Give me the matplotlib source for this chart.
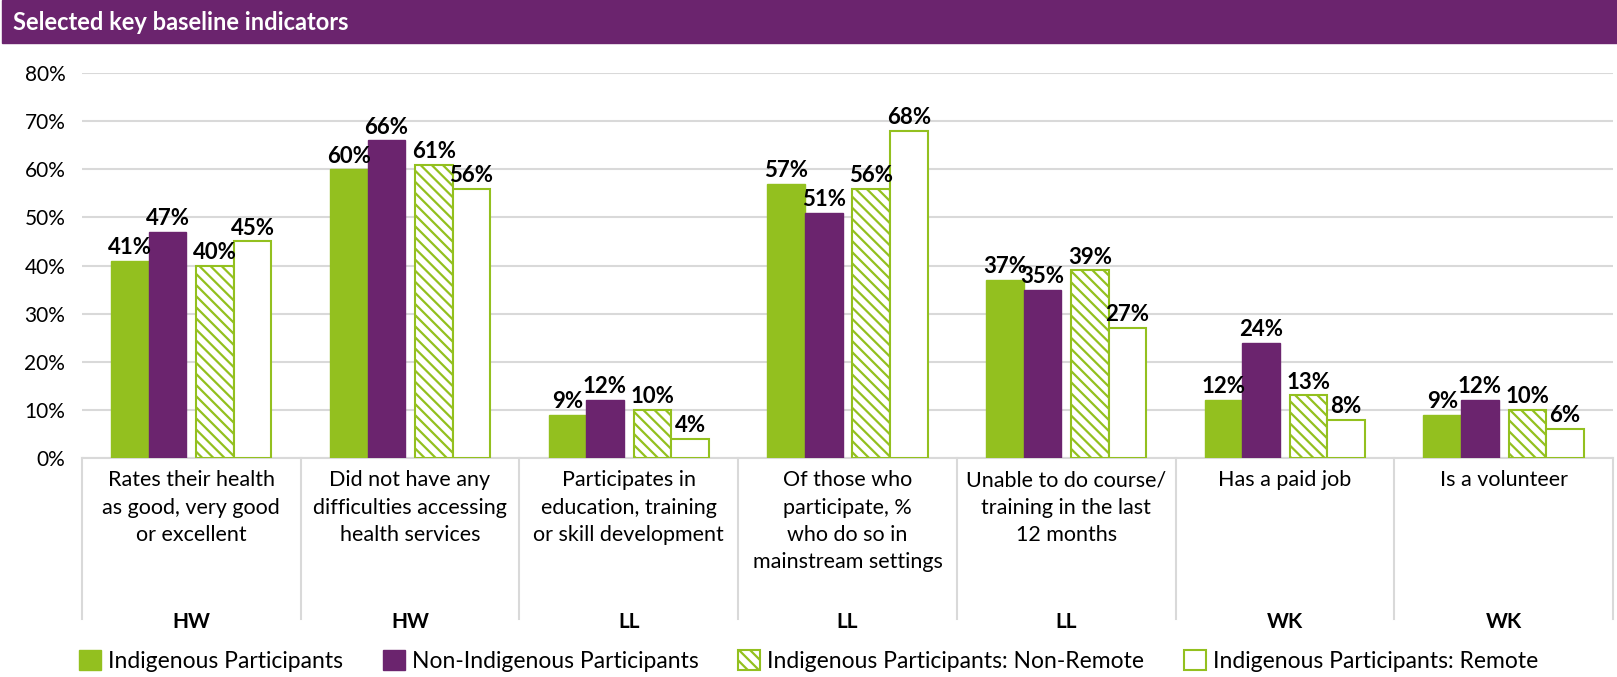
import numpy as np
import matplotlib
matplotlib.use("Agg")
import matplotlib.pyplot as plt
from matplotlib.patches import Patch, Rectangle

plt.rcParams['font.family'] = ['Lato', 'DejaVu Sans']
plt.rcParams['hatch.linewidth'] = 1.6
plt.rcParams['hatch.color'] = '#93C01F'

GREEN = '#93C01F'
PURPLE = '#6B246E'
GRID = '#d9d9d9'

categories = [
    "Rates their health\nas good, very good\nor excellent",
    "Did not have any\ndifficulties accessing\nhealth services",
    "Participates in\neducation, training\nor skill development",
    "Of those who\nparticipate, %\nwho do so in\nmainstream settings",
    "Unable to do course/\ntraining in the last\n12 months",
    "Has a paid job",
    "Is a volunteer",
]
domains = ["HW", "HW", "LL", "LL", "LL", "WK", "WK"]

indigenous = [41, 60, 9, 57, 37, 12, 9]
non_indigenous = [47, 66, 12, 51, 35, 24, 12]
non_remote = [40, 61, 10, 56, 39, 13, 10]
remote = [45, 56, 4, 68, 27, 8, 6]

series = ["Indigenous Participants", "Non-Indigenous Participants",
          "Indigenous Participants: Non-Remote", "Indigenous Participants: Remote"]

fig = plt.figure(figsize=(16.17, 6.77), dpi=100)
ax = fig.add_axes([0.0507, 0.3235, 0.9468, 0.5685])

x = np.arange(len(categories))
w = 0.172
gap = 0.045
offs = [-gap / 2 - 1.5 * w, -gap / 2 - 0.5 * w, gap / 2 + 0.5 * w, gap / 2 + 1.5 * w]

data = [np.array(v) / 100 for v in (indigenous, non_indigenous, non_remote, remote)]
styles = [
    dict(color=GREEN, edgecolor=GREEN),
    dict(color=PURPLE, edgecolor=PURPLE),
    dict(facecolor='white', edgecolor=GREEN, hatch='\\\\\\', linewidth=1.5),
    dict(facecolor='white', edgecolor=GREEN, linewidth=1.5),
]

for vals, off, st, name in zip(data, offs, styles, series):
    bars = ax.bar(x + off, vals, w, label=name, zorder=3, **st)
    ax.bar_label(bars, labels=[f"{v * 100:.0f}%" for v in vals], padding=2,
                 fontsize=16, fontweight='bold', color='black', zorder=4)

ax.set_xlim(-0.5, len(categories) - 0.5)
ax.set_ylim(0, 0.8)
ax.set_yticks(np.arange(0, 0.81, 0.1))
ax.set_yticklabels([f"{t}%" for t in range(0, 81, 10)], fontsize=15)
ax.yaxis.grid(True, color=GRID, linewidth=1.5, zorder=0)
ax.tick_params(axis='y', length=0, pad=12)
ax.tick_params(axis='x', length=0, labelbottom=False)
for s in ['top', 'right', 'left']:
    ax.spines[s].set_visible(False)
ax.spines['bottom'].set_color(GRID)
ax.spines['bottom'].set_linewidth(1.5)

# category text and domain tags below the axis, split by thin dividers
for i, (cat, dom) in enumerate(zip(categories, domains)):
    ax.text(i, -0.032, cat, transform=ax.get_xaxis_transform(), ha='center', va='top',
            fontsize=15.5, linespacing=1.45)
    ax.text(i, -0.427, dom, transform=ax.get_xaxis_transform(), ha='center', va='center',
            fontsize=15, fontweight='bold')
for b in np.arange(-0.5, len(categories), 1.0):
    ax.plot([b, b], [0, -0.418], transform=ax.get_xaxis_transform(), color=GRID,
            linewidth=1.5, clip_on=False)

# header band
fig.patches.append(Rectangle((0.0012, 1 - 43 / 677), 0.9988, 43 / 677,
                             transform=fig.transFigure, color=PURPLE, zorder=0))
fig.text(0.008, 1 - 22 / 677, "Selected key baseline indicators", color='white',
         fontsize=17, fontweight='bold', va='center', ha='left')

handles = [
    Patch(facecolor=GREEN, edgecolor=GREEN),
    Patch(facecolor=PURPLE, edgecolor=PURPLE),
    Patch(facecolor='white', edgecolor=GREEN, hatch='\\\\\\', linewidth=1.5),
    Patch(facecolor='white', edgecolor=GREEN, linewidth=1.5),
]
fig.legend(handles, series, loc='center left', bbox_to_anchor=(0.049, 1 - 661 / 677),
           ncol=4, frameon=False, fontsize=16.5, handlelength=0.95, handleheight=0.95,
           handletextpad=0.3, columnspacing=1.75, borderaxespad=0, borderpad=0)

fig.savefig("out.png", dpi=100)
